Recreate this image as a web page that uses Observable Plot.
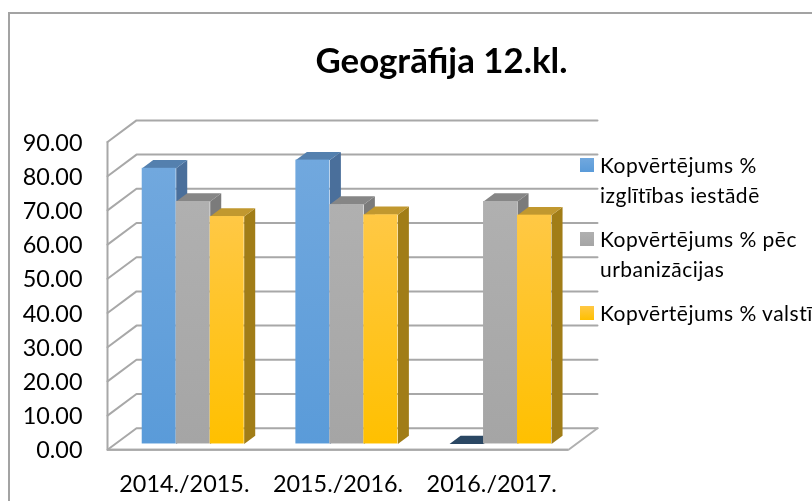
<!DOCTYPE html>
<html>
<head>
<meta charset="utf-8">
<script src="https://cdn.jsdelivr.net/npm/d3@7"></script>
<script src="https://cdn.jsdelivr.net/npm/@observablehq/plot@0.6"></script>
<style>
html,body{margin:0;padding:0;background:#fff;}
#chart{position:relative;width:812px;height:501px;overflow:hidden;font-family:Lato,sans-serif;color:#000;}
#frame{position:absolute;left:8px;top:12px;right:-4px;bottom:-4px;border:2px solid #a3a3a3;}
#title{position:relative;height:100px;box-sizing:border-box;padding-top:39px;text-align:center;width:883px;font-size:34.8px;font-weight:700;line-height:42px;filter:blur(0.4px);}
#plot{position:relative;height:401px;filter:blur(0.45px);}
#legend{position:absolute;left:580px;top:0;font-size:21px;letter-spacing:0.5px;line-height:30px;white-space:nowrap;filter:blur(0.3px);}
.item{position:absolute;left:20px;}
.sw{position:absolute;left:-20px;top:8px;width:14px;height:14px;}
</style>
</head>
<body>
<div id="chart">
  <div id="frame"></div>
  <div id="title"></div>
  <div id="plot"></div>
  <div id="legend"></div>
</div>
<script>
const chartTitle = "Geogrāfija 12.kl.";
const categories = ["2014./2015.", "2015./2016.", "2016./2017."];
const seriesNames = ["Kopvērtējums % izglītības iestādē", "Kopvērtējums % pēc urbanizācijas", "Kopvērtējums % valstī"];
const legendLines = [["Kopvērtējums %", "izglītības iestādē"], ["Kopvērtējums % pēc", "urbanizācijas"], ["Kopvērtējums % valstī"]];
const iestade = [80.6, 83.0, 0];
const urbanizacija = [70.9, 70.0, 70.9];
const valsti = [66.5, 67.0, 66.9];
const ticks = [0, 10, 20, 30, 40, 50, 60, 70, 80, 90];
const faceTop = ["#71a8de", "#b0b0b0", "#ffc845"];
const faceBottom = ["#5a9bd9", "#a5a5a5", "#ffc000"];
const sideColors = ["#4a6f9b", "#7b7b7b", "#a17d17"];
const topColors = ["#5480ae", "#868686", "#c1982f"];
const zeroTopColor = "#2a4763";

const seriesValues = [iestade, urbanizacija, valsti];

// oblique projection of the 3D box, in scale units
const depthX = 0.1887, depthY = 6.316;
const barStart = 0.175, barWidth = 0.2212, d0 = 0.27, d1 = 0.65;
const px = (u, d) => u + d * depthX;
const py = (v, d) => v + d * depthY;

const gridPts = ticks.flatMap(v => [
  {x: px(0, 0), y: py(v, 0), z: v},
  {x: px(0, 1), y: py(v, 1), z: v},
  {x: px(3, 1), y: py(v, 1), z: v}
]);
const floorFront = [
  {x: px(0, 0), y: py(0, 0)},
  {x: px(3, 0), y: py(0, 0)},
  {x: px(3, 1), y: py(0, 1)}
];

const barMarks = seriesValues.flatMap((vals, s) => {
  const bars = vals.map((v, c) => {
    const a = c + barStart + s * barWidth, b = a + barWidth;
    return {a, b, v, c};
  });
  const poly = (id, pts) => pts.map(([u, v, d]) => ({x: px(u, d), y: py(v, d), id}));
  const side = bars.filter(b => b.v > 0).flatMap((b, i) => poly(i, [[b.b, 0, d0], [b.b, b.v, d0], [b.b, b.v, d1], [b.b, 0, d1]]));
  const marks = [];
  if (side.length) marks.push(Plot.line(side, {x: "x", y: "y", z: "id", fill: sideColors[s], stroke: "none"}));
  bars.forEach((b, i) => {
    const t = poly(i, [[b.a, b.v, d0], [b.b, b.v, d0], [b.b, b.v, d1], [b.a, b.v, d1]]);
    marks.push(Plot.line(t, {x: "x", y: "y", fill: b.v > 0 ? topColors[s] : zeroTopColor, stroke: "none"}));
  });
  const faces = bars.filter(b => b.v > 0).map(b => ({
    x1: px(b.a, d0), x2: px(b.b, d0), y1: py(0, d0), y2: py(b.v, d0)
  }));
  marks.push(Plot.rect(faces, {x1: "x1", x2: "x2", y1: "y1", y2: "y2", fill: `url(#face${s})`}));
  return marks;
});

const defsMark = () => {
  const svgNS = "http://www.w3.org/2000/svg";
  const defs = document.createElementNS(svgNS, "defs");
  faceTop.forEach((c, s) => {
    const g = document.createElementNS(svgNS, "linearGradient");
    g.setAttribute("id", `face${s}`);
    g.setAttribute("x1", 0); g.setAttribute("x2", 0); g.setAttribute("y1", 0); g.setAttribute("y2", 1);
    [[0, c], [1, faceBottom[s]]].forEach(([o, col]) => {
      const st = document.createElementNS(svgNS, "stop");
      st.setAttribute("offset", o); st.setAttribute("stop-color", col);
      g.appendChild(st);
    });
    defs.appendChild(g);
  });
  return defs;
};

const plot = Plot.plot({
  width: 812,
  height: 401,
  marginLeft: 107,
  marginRight: 244,
  marginTop: 41.5,
  marginBottom: 51.7,
  style: {fontFamily: "Lato, sans-serif", background: "transparent", color: "#000", overflow: "visible"},
  x: {type: "linear", domain: [0, 3]},
  y: {type: "linear", domain: [0, 90]},
  marks: [
    defsMark,
    Plot.line(gridPts, {x: "x", y: "y", z: "z", stroke: "#a8a8a8", strokeWidth: 2}),
    Plot.line(floorFront, {x: "x", y: "y", stroke: "#b0b0b0", strokeWidth: 2}),
    Plot.ruleX([0], {y1: 0, y2: 90, stroke: "#a8a8a8", strokeWidth: 2}),
    Plot.ruleY([0], {x1: 0, x2: 3, stroke: "#a8a8a8", strokeWidth: 2}),
    ...barMarks,
    Plot.axisY({ticks, tickFormat: d3.format(".2f"), tickSize: 0, tickPadding: 25, label: null, fill: "#000", fontSize: 23.4, dy: 1}),
    Plot.axisX({ticks: categories.map((_, i) => i + 0.5), tickFormat: d => categories[Math.floor(d)], tickSize: 0, tickPadding: 26, label: null, fill: "#000", fontSize: 23.4})
  ]
});
document.getElementById("plot").appendChild(plot);
document.getElementById("title").textContent = chartTitle;

const legendTops = [150, 224, 298];
const legend = document.getElementById("legend");
legendLines.forEach((lines, s) => {
  const item = document.createElement("div");
  item.className = "item";
  item.style.top = legendTops[s] + "px";
  item.title = seriesNames[s];
  const sw = document.createElement("div");
  sw.className = "sw";
  sw.style.background = `linear-gradient(${faceTop[s]}, ${faceBottom[s]})`;
  item.appendChild(sw);
  lines.forEach(t => { const l = document.createElement("div"); l.textContent = t; item.appendChild(l); });
  legend.appendChild(item);
});
</script>
</body>
</html>
